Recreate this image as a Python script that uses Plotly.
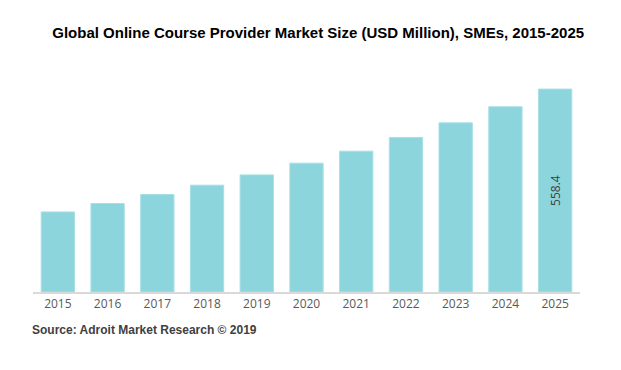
import plotly.graph_objects as go

years = ["2015", "2016", "2017", "2018", "2019", "2020", "2021", "2022", "2023", "2024", "2025"]
values = [220.4, 243.5, 268.3, 294.0, 322.3, 354.6, 387.6, 425.4, 465.6, 509.7, 558.4]
labels = ["", "", "", "", "", "", "", "", "", "", "558.4"]

fig = go.Figure(go.Bar(
    x=years, y=values,
    marker=dict(color="#8dd5dc", line=dict(color="#a6e0e5", width=1)),
    text=labels, textposition="inside", insidetextanchor="middle",
    textangle=-90, textfont=dict(family="Open Sans, sans-serif", size=12, color="#404040"),
    cliponaxis=False,
))

fig.update_layout(
    width=613, height=362,
    margin=dict(l=25, r=41, t=66, b=78),
    paper_bgcolor="white", plot_bgcolor="white",
    bargap=0.33,
    showlegend=False,
    title=dict(text="<b>Global Online Course Provider Market Size (USD Million), SMEs, 2015-2025</b>",
               x=0.506, xanchor="center", y=0.931, yanchor="middle",
               font=dict(family="Liberation Sans, Arial, sans-serif", size=15, color="#000000")),
    xaxis=dict(type="category", showgrid=False, showline=True, linecolor="#d9d9d9", linewidth=2,
               ticks="", tickfont=dict(family="Open Sans, sans-serif", size=12, color="#595959")),
    yaxis=dict(range=[0, 600], visible=False, showgrid=False),
    annotations=[dict(text="<b>Source: Adroit Market Research © 2019</b>", xref="paper", yref="paper",
                      x=-0.0055, y=-0.174, xanchor="left", yanchor="middle", showarrow=False,
                      font=dict(family="Liberation Sans, Arial, sans-serif", size=12, color="#404040"))],
)

fig.write_html("out.html")
